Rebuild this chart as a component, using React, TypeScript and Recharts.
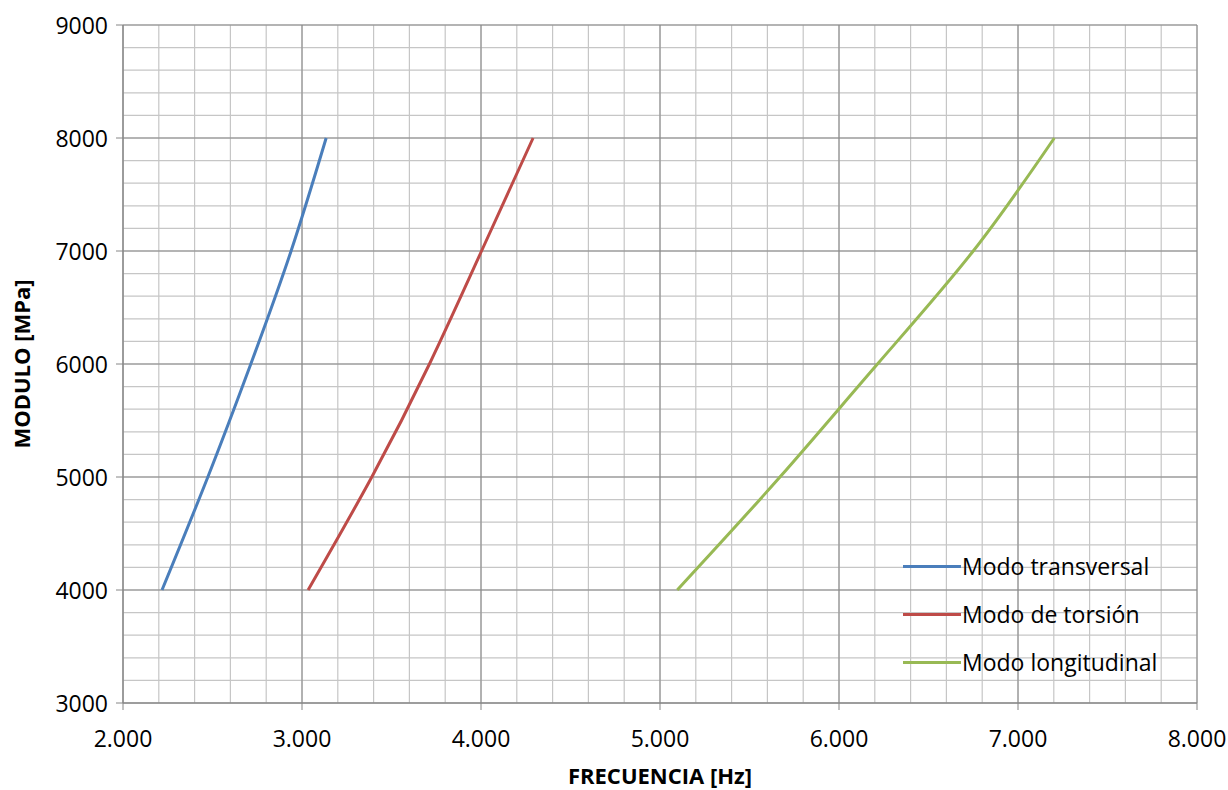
import {
  LineChart,
  Line,
  XAxis,
  YAxis,
  CartesianGrid,
  ReferenceLine,
} from "recharts";

// Valores (frecuencia Hz, módulo MPa)
const modulos = [4000, 5000, 6000, 7000, 8000];
const freqTransversal = [2218, 2474, 2714, 2939, 3135];
const freqTorsion = [3034, 3390, 3712, 4003, 4291];
const freqLongitudinal = [5096, 5670, 6215, 6750, 7203];

const series = [
  { name: "Modo transversal", freqs: freqTransversal, color: "#4A7EBB" },
  { name: "Modo de torsión", freqs: freqTorsion, color: "#BE4B48" },
  { name: "Modo longitudinal", freqs: freqLongitudinal, color: "#98B954" },
];

const xMajor = [2000, 3000, 4000, 5000, 6000, 7000, 8000];
const yMajor = [3000, 4000, 5000, 6000, 7000, 8000, 9000];
const xTicks = Array.from({ length: 31 }, (_, i) => 2000 + i * 200);
const yTicks = Array.from({ length: 31 }, (_, i) => 3000 + i * 200);

const FONT = "'Open Sans', sans-serif";
const MAJOR = "#868686";
const MINOR = "#C6C6C6";

const fmtX = (v: number) => (v / 1000).toFixed(3);

function XTick({ x, y, payload }: any) {
  if (payload.value % 1000 !== 0) return null;
  return (
    <g>
      <line x1={x} x2={x} y1={y - 8} y2={y - 1} stroke={MAJOR} />
      <text x={x} y={y + 36} textAnchor="middle" fontSize={23} fontFamily={FONT} fill="#000">
        {fmtX(payload.value)}
      </text>
    </g>
  );
}

function YTick({ x, y, payload }: any) {
  if (payload.value % 1000 !== 0) return null;
  return (
    <g>
      <line x1={x + 1} x2={x + 8} y1={y} y2={y} stroke={MAJOR} />
      <text x={x - 7} y={y + 8.5} textAnchor="end" fontSize={23} fontFamily={FONT} fill="#000">
        {payload.value}
      </text>
    </g>
  );
}

function LegendBox() {
  return (
    <div
      style={{
        position: "absolute",
        left: 903,
        top: 542,
        fontFamily: FONT,
        fontSize: 23,
        color: "#000",
        pointerEvents: "none",
      }}
    >
      {series.map((s) => (
        <div key={s.name} style={{ display: "flex", alignItems: "center", height: 48 }}>
          <div style={{ width: 58, height: 3, background: s.color, marginRight: 1 }} />
          <span style={{ whiteSpace: "nowrap" }}>{s.name}</span>
        </div>
      ))}
    </div>
  );
}

export default function App() {
  return (
    <div style={{ position: "absolute", left: 0, top: 0, width: 1228, height: 790, background: "#fff" }}>
      <LineChart
        width={1228}
        height={790}
        margin={{ top: 25, right: 31, left: 0, bottom: 0 }}
      >
        <CartesianGrid stroke={MINOR} strokeWidth={1.2} />
        {xMajor.map((v) => (
          <ReferenceLine key={"x" + v} x={v} stroke={MAJOR} strokeWidth={1} />
        ))}
        {yMajor.map((v) => (
          <ReferenceLine key={"y" + v} y={v} stroke={MAJOR} strokeWidth={1} />
        ))}
        <XAxis
          type="number"
          dataKey="f"
          domain={[2000, 8000]}
          ticks={xTicks}
          interval={0}
          height={87}
          stroke={MAJOR}
          tickLine={false}
          tick={<XTick />}
          label={{
            value: "FRECUENCIA [Hz]",
            position: "insideBottom",
            offset: 6,
            style: { fontFamily: FONT, fontSize: 22, fontWeight: 700, fill: "#000" },
          }}
        />
        <YAxis
          type="number"
          dataKey="e"
          domain={[3000, 9000]}
          ticks={yTicks}
          interval={0}
          width={123}
          stroke={MAJOR}
          tickLine={false}
          tick={<YTick />}
          label={{
            value: "MODULO [MPa]",
            angle: -90,
            position: "insideLeft",
            offset: 22,
            style: {
              textAnchor: "middle",
              fontFamily: FONT,
              fontSize: 22,
              fontWeight: 700,
              fill: "#000",
            },
          }}
        />
        {series.map((s) => (
          <Line
            key={s.name}
            name={s.name}
            data={s.freqs.map((f, i) => ({ f, e: modulos[i] }))}
            dataKey="e"
            type="natural"
            stroke={s.color}
            strokeWidth={3}
            dot={false}
            isAnimationActive={false}
          />
        ))}
      </LineChart>
      <LegendBox />
    </div>
  );
}
